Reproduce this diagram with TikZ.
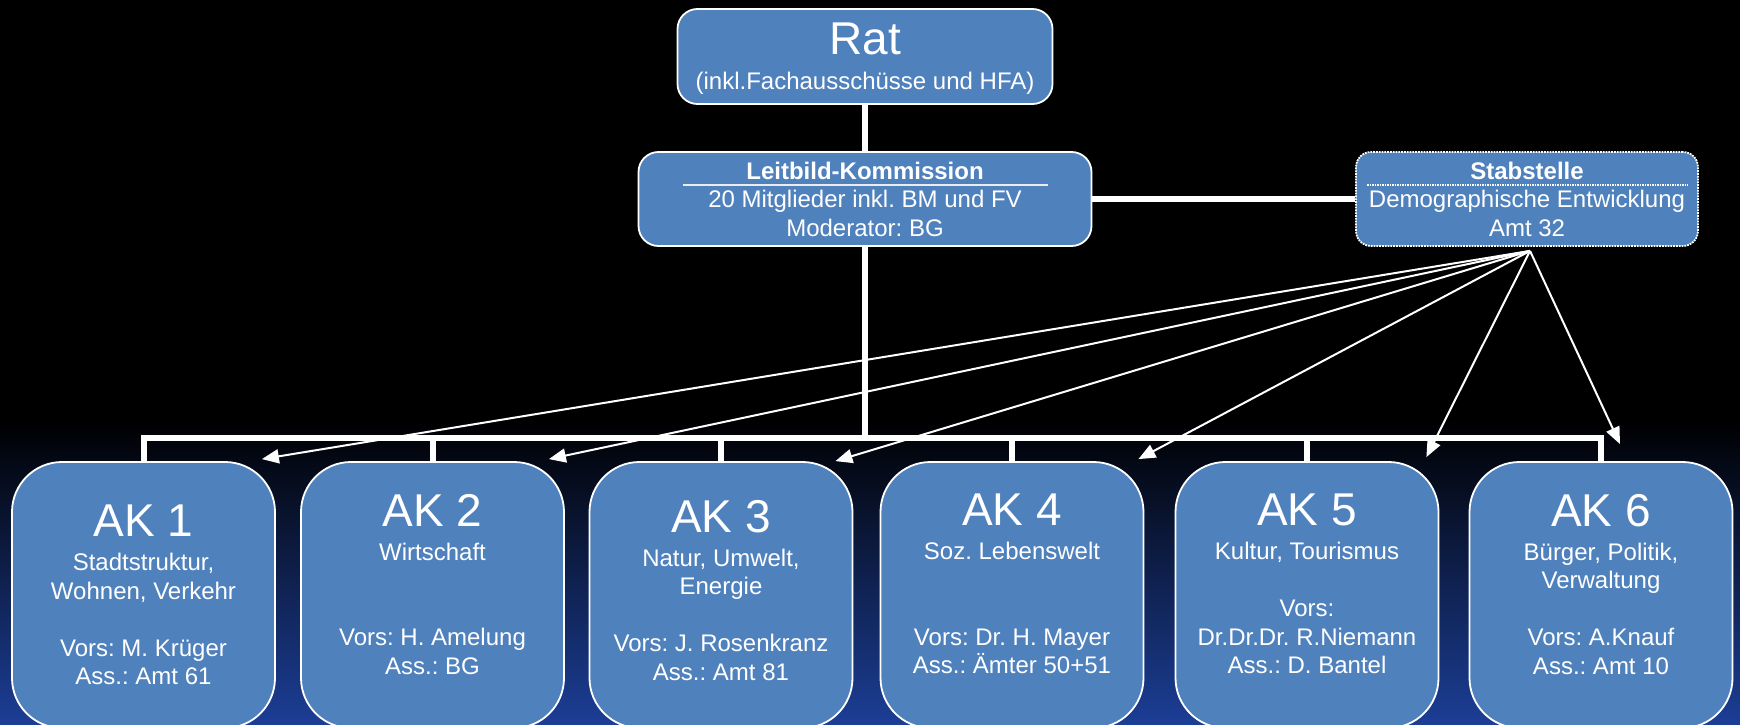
\documentclass[tikz,border=0pt]{standalone}
\usepackage{fontspec}
\setmainfont{Liberation Sans}
\usetikzlibrary{arrows.meta}
\definecolor{boxblue}{RGB}{79,129,189}
\definecolor{bgblue}{RGB}{28,62,150}
\newcommand\bigtitle{\fontsize{46}{50}\selectfont}
\newcommand\boxtext{\fontsize{24}{28.5}\selectfont}
\frenchspacing

\begin{document}
\begin{tikzpicture}[x=1pt, y=-1pt]
\tikzstyle{box}=[draw=white, line width=1.8pt, fill=boxblue, text=white, align=center, inner sep=0pt, font=\boxtext]
\tikzstyle{akbox}=[box, rounded corners=50pt, minimum width=263pt, minimum height=266pt]
\tikzstyle{conn}=[draw=white, line width=6pt]
\tikzstyle{pointer}=[draw=white, line width=2pt, -{Triangle[length=17pt,width=14pt]}]
  \useasboundingbox (0,0) rectangle (1740,725);
  \fill[black] (0,0) rectangle (1740,725);
  \shade[top color=black, bottom color=bgblue] (0,420) rectangle (1740,725);

  \node[box, rounded corners=20pt, minimum width=375pt, minimum height=95pt, text depth=-24pt] (rat) at (865,56.5)
    {{\bigtitle Rat}\\[6.5pt] (inkl.Fachausschüsse und HFA)};
  \node[box, rounded corners=20pt, minimum width=453pt, minimum height=94pt, text depth=-2pt] (leit) at (865,199)
    {\textbf{Leitbild-Kommission}\\ 20 Mitglieder inkl. BM und FV\\ Moderator: BG};
  \node[box, densely dotted, rounded corners=15pt, minimum width=342pt, minimum height=94pt, text depth=-2pt] (stab) at (1527,199)
    {\textbf{Stabstelle}\\ Demographische Entwicklung\\ Amt 32};
  \draw[gray!15, line width=1.5pt] ([shift={(45,34)}]leit.north west) -- ([shift={(-44,34)}]leit.north east);
  \draw[white, line width=1.5pt, densely dotted] ([shift={(12,34)}]stab.north west) -- ([shift={(-11,34)}]stab.north east);

  \foreach \place/\name/\dep/\txt in {{(143.5,595)/ak1/-14pt/{{\bigtitle AK 1}\\[5.5pt] Stadtstruktur,\\ Wohnen, Verkehr\\[28.5pt] Vors: M. Krüger\\ Ass.: Amt 61}},
                                      {(432.5,595)/ak2/22pt/{{\bigtitle AK 2}\\[5.5pt] Wirtschaft\\[57pt] Vors: H. Amelung\\ Ass.: BG}},
                                      {(721,595)/ak3/10pt/{{\bigtitle AK 3}\\[5.5pt] Natur, Umwelt,\\ Energie\\[28.5pt] Vors: J. Rosenkranz\\ Ass.: Amt 81}},
                                      {(1012,595)/ak4/22pt/{{\bigtitle AK 4}\\[5.5pt] Soz. Lebenswelt\\[57pt] Vors: Dr. H. Mayer\\ Ass.: Ämter 50+51}},
                                      {(1307,595)/ak5/22pt/{{\bigtitle AK 5}\\[5.5pt] Kultur, Tourismus\\[28.5pt] Vors:\\ Dr.Dr.Dr. R.Niemann\\ Ass.: D. Bantel}},
                                      {(1601,595)/ak6/22pt/{{\bigtitle AK 6}\\[5.5pt] Bürger, Politik,\\ Verwaltung\\[28.5pt] Vors: A.Knauf\\ Ass.: Amt 10}}}
    \node[akbox, text depth=\dep] (\name) at \place {\txt};

  % organisation lines
  \coordinate (bus) at (865,438);
  \draw[conn] (rat) -- (leit);
  \draw[conn] (leit) -- (stab);
  \draw[conn] (leit) -- (bus);
  \draw[conn] (ak1.north) |- (bus) -| (ak6.north);
  \foreach \name in {ak2,ak3,ak4,ak5}
    \draw[conn] (\name.north) -- (\name.north |- bus);

  % Stabstelle arrows
  \foreach \dest/\anc/\dx/\dy in {ak1/north east/-14/-2, ak2/north east/-16/-2, ak3/north east/-18/0,
                                  ak4/north east/-6/-2, ak5/north east/-13/-4, ak6/north/19/-17}
    \draw[pointer] ([shift={(3,4)}]stab.south) -- ([shift={(\dx,\dy)}]\dest.\anc);
\end{tikzpicture}
\end{document}
